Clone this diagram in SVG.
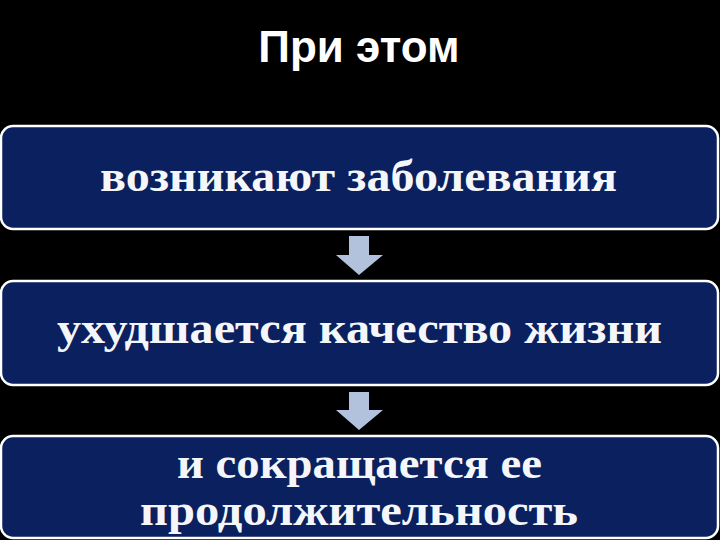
<svg xmlns="http://www.w3.org/2000/svg" width="720" height="540" viewBox="0 0 720 540">
<style>
.box{fill:#0b205e;stroke:#ffffff;stroke-width:2.5}
.t{font-family:"Liberation Serif","DejaVu Serif",serif;font-weight:bold;font-size:44px;fill:#f4f6fa;text-anchor:middle}
.title{font-family:"Liberation Sans",Arial,sans-serif;font-weight:bold;font-size:44px;fill:#ffffff;text-anchor:middle}
.arr{fill:#b3c2dc}
</style>
<rect width="720" height="540" fill="#000000"/>
<text class="title" x="359" y="62">При этом</text>
<g id="connectors">
<polygon class="arr" points="349,236 369,236 369,255 383,255 359,275 336,255 349,255"/>
<polygon class="arr" points="349,392 369,392 369,410 383,410 359,430 336,410 349,410"/>
</g>
<g id="n1">
<rect class="box" x="1" y="126" width="717" height="103" rx="12"/>
<text class="t" x="358.5" y="191" textLength="517" lengthAdjust="spacingAndGlyphs">возникают заболевания</text>
</g>
<g id="n2">
<rect class="box" x="1" y="281" width="717" height="104" rx="12"/>
<text class="t" x="359.5" y="343" textLength="605" lengthAdjust="spacingAndGlyphs">ухудшается качество жизни</text>
</g>
<g id="n3">
<rect class="box" x="1" y="436" width="717" height="102" rx="12"/>
<text class="t" x="359.5" y="478" textLength="365" lengthAdjust="spacingAndGlyphs">и сокращается ее</text>
<text class="t" x="359" y="525" textLength="438" lengthAdjust="spacingAndGlyphs">продолжительность</text>
</g>
</svg>
